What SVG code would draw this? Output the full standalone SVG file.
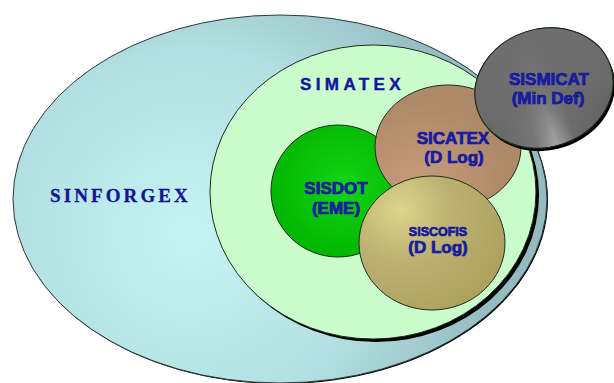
<svg xmlns="http://www.w3.org/2000/svg" width="614" height="383" viewBox="0 0 614 383">
<defs>
<radialGradient id="gForge" gradientUnits="userSpaceOnUse" cx="190" cy="235" r="310">
<stop offset="0" stop-color="#c6f4f4"/>
<stop offset="0.6" stop-color="#b2dfe1"/>
<stop offset="1" stop-color="#94bcc0"/>
</radialGradient>
<radialGradient id="gDot" cx="0.55" cy="0.45" r="0.6">
<stop offset="0" stop-color="#14d414"/>
<stop offset="1" stop-color="#00b400"/>
</radialGradient>
<radialGradient id="gCat" gradientUnits="userSpaceOnUse" cx="420" cy="190" r="90">
<stop offset="0" stop-color="#c89e7c"/>
<stop offset="1" stop-color="#ad8968"/>
</radialGradient>
<radialGradient id="gCof" gradientUnits="userSpaceOnUse" cx="400" cy="210" r="110">
<stop offset="0" stop-color="#dcd68c"/>
<stop offset="0.45" stop-color="#bdb272"/>
<stop offset="1" stop-color="#aea260"/>
</radialGradient>
<linearGradient id="gMic" gradientUnits="userSpaceOnUse" x1="480" y1="0" x2="610" y2="0">
<stop offset="0" stop-color="#5e5e5e"/>
<stop offset="0.3" stop-color="#7a7a7a"/>
<stop offset="0.45" stop-color="#a8a8a8"/>
<stop offset="0.6" stop-color="#6c6c6c"/>
<stop offset="1" stop-color="#5a5a5a"/>
</linearGradient>
<linearGradient id="gMicV" gradientUnits="userSpaceOnUse" x1="0" y1="30" x2="0" y2="150">
<stop offset="0" stop-color="#6e6e6e" stop-opacity="1"/>
<stop offset="0.55" stop-color="#6e6e6e" stop-opacity="0.85"/>
<stop offset="1" stop-color="#6e6e6e" stop-opacity="0"/>
</linearGradient>
</defs>
<style>
.lbl{font-family:"Liberation Sans",Arial,sans-serif;font-weight:bold;font-size:17px;fill:#1a1eb6;stroke:#12128a;stroke-width:0.7px;text-anchor:middle}
.edge{stroke:#1e2a1e;stroke-width:1}
</style>
<rect width="614" height="383" fill="#ffffff"/>
<g id="SINFORGEX">
<ellipse cx="281" cy="200" rx="267" ry="184" fill="#000"/>
<ellipse cx="280" cy="199" rx="267" ry="184" fill="url(#gForge)" stroke="#2a3a3a" stroke-width="1"/>
<text x="50" y="202" font-family="'Liberation Serif','Times New Roman',serif" font-weight="bold" font-size="19" letter-spacing="3.1" fill="#16169c" stroke="#10107a" stroke-width="0.3">SINFORGEX</text>
</g>
<g id="SIMATEX">
<ellipse cx="376" cy="195" rx="163" ry="147" fill="#000"/>
<ellipse cx="373" cy="192" rx="163" ry="147" fill="#cbfccb" class="edge"/>
<text x="300" y="90" font-family="'Liberation Sans',Arial,sans-serif" font-weight="bold" font-size="17" letter-spacing="4.4" fill="#1414a8" stroke="#10108a" stroke-width="0.4">SIMATEX</text>
</g>
<g id="SISDOT">
<ellipse cx="338" cy="191" rx="67" ry="66" fill="url(#gDot)" class="edge"/>
<text class="lbl" x="336" y="194">SISDOT</text>
<text class="lbl" x="336" y="214">(EME)</text>
</g>
<g id="SICATEX">
<ellipse cx="448" cy="147" rx="73" ry="62" fill="url(#gCat)" class="edge"/>
<text class="lbl" x="453" y="144">SICATEX</text>
<text class="lbl" x="454" y="163">(D Log)</text>
</g>
<g id="SISCOFIS">
<ellipse cx="432" cy="243" rx="73" ry="67" fill="url(#gCof)" class="edge"/>
<text class="lbl" x="438" y="236" style="font-size:12.5px">SISCOFIS</text>
<text class="lbl" x="438" y="253">(D Log)</text>
</g>
<g id="SISMICAT">
<ellipse cx="546" cy="91" rx="70" ry="59" transform="rotate(-18 546 91)" fill="#000"/>
<ellipse cx="544" cy="88" rx="70" ry="59" transform="rotate(-18 544 88)" fill="url(#gMic)" class="edge"/>
<ellipse cx="544" cy="88" rx="70" ry="59" transform="rotate(-18 544 88)" fill="url(#gMicV)"/>
<ellipse cx="544" cy="88" rx="70" ry="59" transform="rotate(-18 544 88)" fill="none" class="edge"/>
<text class="lbl" x="549" y="85">SISMICAT</text>
<text class="lbl" x="548" y="104">(Min Def)</text>
</g>
<g id="connectors"/>
</svg>
